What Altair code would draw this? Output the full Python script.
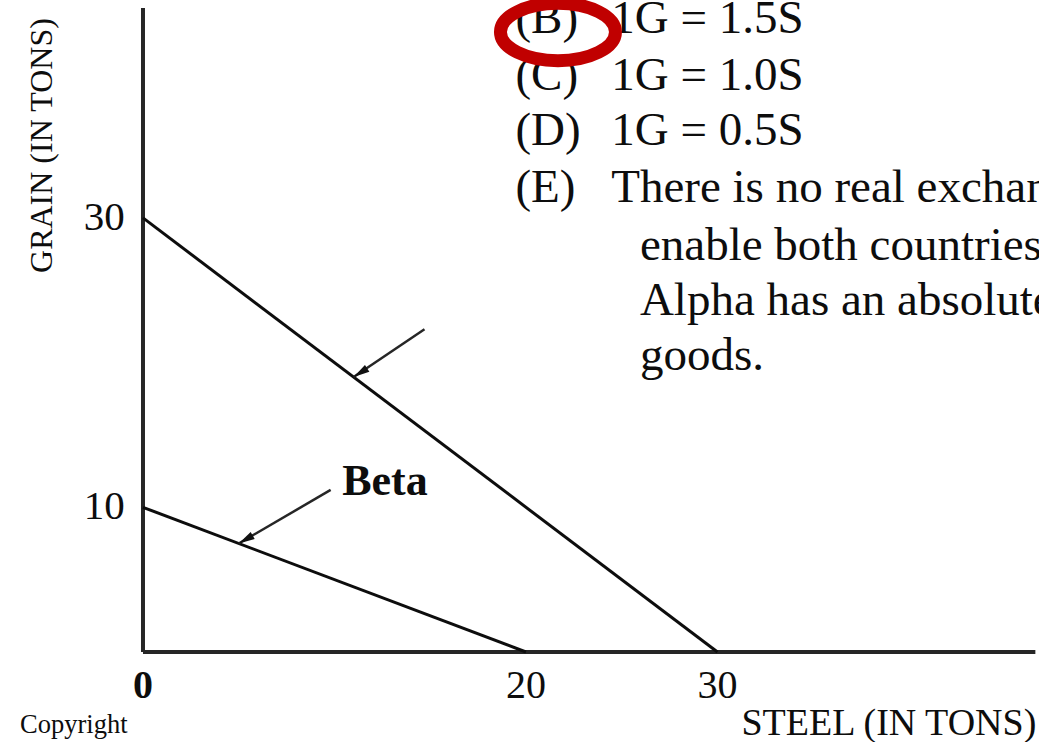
import altair as alt
import pandas as pd

# Production possibilities: steel (x) against grain (y), in tons
countries = ["Alpha", "Beta"]
grain_max = [30, 10]
steel_max = [30, 20]

# Axis extents and tick labels
x_axis_end = 46.6
y_axis_end = 44.5
x_ticks = [0, 20, 30]
y_ticks = [30, 10]

# Answer choices printed beside the graph
choice_letters = ["(B)", "(C)", "(D)", "(E)"]
choice_texts = ["1G = 1.5S", "1G = 1.0S", "1G = 0.5S", "There is no real exchange"]
choice_e_more = ["enable both countries", "Alpha has an absolute", "goods."]

# Arrow callouts (start, tip) in data units
arrow_names = ["Alpha", "Beta"]
arrow_start_x = [14.7, 9.8]
arrow_start_y = [22.3, 11.2]
arrow_tip_x = [11.0, 5.0]
arrow_tip_y = [19.0, 7.5]
arrow_angle = [237, 240]

FONT = "Liberation Serif"
INK = "#0d0d0d"

xs = alt.Scale(domain=[-7.467, 46.79], nice=False, zero=False)
ys = alt.Scale(domain=[-6.22, 45.06], nice=False, zero=False)

def X(field="x"):
    return alt.X(f"{field}:Q", scale=xs, axis=None)

def Y(field="y"):
    return alt.Y(f"{field}:Q", scale=ys, axis=None)

# frontier lines
frontier_rows = []
for c, g, s in zip(countries, grain_max, steel_max):
    frontier_rows.append({"country": c, "x": 0, "y": g})
    frontier_rows.append({"country": c, "x": s, "y": 0})
frontiers = alt.Chart(pd.DataFrame(frontier_rows)).mark_line(
    color=INK, strokeWidth=3
).encode(x=X(), y=Y(), detail="country:N")

# axis lines
axes_df = pd.DataFrame({
    "x": [0, 0], "y": [0, 0], "x2": [0, x_axis_end], "y2": [y_axis_end, 0]
})
axes = alt.Chart(axes_df).mark_rule(color="#262626", strokeWidth=4).encode(
    x=X(), y=Y(), x2="x2:Q", y2="y2:Q"
)

# tick labels
ytick = alt.Chart(pd.DataFrame({"v": y_ticks, "lab": [str(v) for v in y_ticks], "x": [-0.95] * 2})).mark_text(
    font=FONT, fontSize=41, align="right", baseline="middle", color=INK
).encode(x=X(), y=Y("v"), text="lab:N")

xtick_df = pd.DataFrame({"v": x_ticks, "lab": [str(v) for v in x_ticks], "y": [-1.0] * 3})
xtick_origin = alt.Chart(xtick_df.iloc[:1]).mark_text(
    font=FONT, fontSize=40, fontWeight="bold", align="center", baseline="top", color=INK
).encode(x=X("v"), y=Y(), text="lab:N")
xtick_rest = alt.Chart(xtick_df.iloc[1:]).mark_text(
    font=FONT, fontSize=40, align="center", baseline="top", color=INK
).encode(x=X("v"), y=Y(), text="lab:N")

# axis titles
y_title = alt.Chart(pd.DataFrame({"x": [-5.25], "y": [35.0], "t": ["GRAIN (IN TONS)"]})).mark_text(
    font=FONT, fontSize=32, angle=270, align="center", baseline="middle", color=INK
).encode(x=X(), y=Y(), text="t:N")

x_title = alt.Chart(pd.DataFrame({"x": [46.65], "y": [-5.72], "t": ["STEEL (IN TONS)"]})).mark_text(
    font=FONT, fontSize=38, align="right", baseline="alphabetic", color=INK
).encode(x=X(), y=Y(), text="t:N")

copyright_txt = alt.Chart(pd.DataFrame({"x": [-6.42], "y": [-5.6], "t": ["Copyright"]})).mark_text(
    font=FONT, fontSize=26.5, align="left", baseline="alphabetic", color=INK
).encode(x=X(), y=Y(), text="t:N")

# Beta label
beta_label = alt.Chart(pd.DataFrame({"x": [10.4], "y": [10.85], "t": ["Beta"]})).mark_text(
    font=FONT, fontSize=44, fontWeight="bold", align="left", baseline="alphabetic", color=INK
).encode(x=X(), y=Y(), text="t:N")

# arrows
arrows_df = pd.DataFrame({
    "name": arrow_names, "x": arrow_start_x, "y": arrow_start_y,
    "x2": arrow_tip_x, "y2": arrow_tip_y, "ang": arrow_angle
})
arrow_lines = alt.Chart(arrows_df).mark_rule(color="#262626", strokeWidth=2.5).encode(
    x=X(), y=Y(), x2="x2:Q", y2="y2:Q"
)
arrow_heads = alt.Chart(arrows_df).mark_point(
    shape="M0,0 L0.5,2 L-0.5,2 Z", filled=True, color="#111111", size=260, opacity=1
).encode(
    x=X("x2"), y=Y("y2"),
    angle=alt.Angle("ang:Q", scale=None)
)

# answer choices
rows_base = [42.78, 38.84, 35.04, 31.1]
choices_df = pd.DataFrame({"letter": choice_letters, "txt": choice_texts, "y": rows_base})
letters = alt.Chart(choices_df.assign(x=19.45)).mark_text(
    font=FONT, fontSize=47, align="left", baseline="alphabetic", color=INK
).encode(x=X(), y=Y(), text="letter:N")
texts = alt.Chart(choices_df.assign(x=24.45)).mark_text(
    font=FONT, fontSize=47, align="left", baseline="alphabetic", color=INK
).encode(x=X(), y=Y(), text="txt:N")
more_df = pd.DataFrame({"txt": choice_e_more, "y": [27.09, 23.29, 19.49], "x": [25.95] * 3})
more = alt.Chart(more_df).mark_text(
    font=FONT, fontSize=47, align="left", baseline="alphabetic", color=INK
).encode(x=X(), y=Y(), text="txt:N")

# red ring around the chosen answer
ring = alt.Chart(pd.DataFrame({"x": [21.67], "y": [42.85]})).mark_point(
    shape="M-1,0 C-1,-0.2755 -0.5523,-0.499 0,-0.499 C0.5523,-0.499 1,-0.2755 1,0 "
          "C1,0.2755 0.5523,0.499 0,0.499 C-0.5523,0.499 -1,0.2755 -1,0 Z",
    filled=False, color="#c00000", strokeWidth=13, size=13225, opacity=1
).encode(x=X(), y=Y())

chart = alt.layer(
    axes, frontiers, arrow_lines, arrow_heads, ytick, xtick_origin, xtick_rest,
    y_title, x_title, copyright_txt, beta_label, letters, texts, more, ring
).properties(
    width=1039, height=742, autosize="none", padding=0, background="white"
).configure_view(stroke=None)

chart.save("out.html", embed_options={"renderer": "svg", "actions": False})
